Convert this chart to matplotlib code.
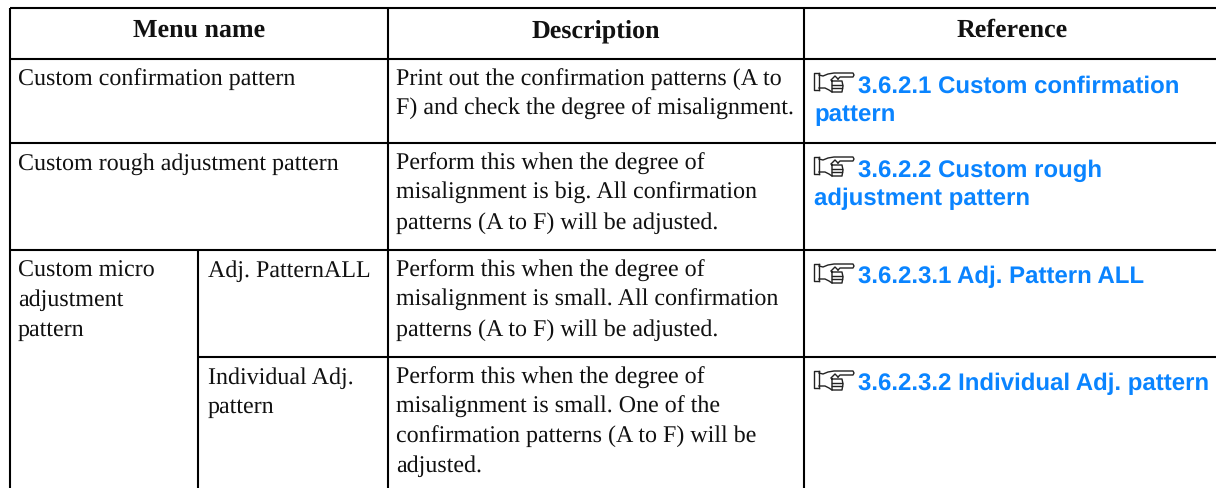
import matplotlib
matplotlib.use('Agg')
import matplotlib.pyplot as plt

plt.rcParams['text.hinting'] = 'no_hinting'
plt.rcParams['text.hinting_factor'] = 1

headers = ['Menu name', 'Description', 'Reference']
menu_names = ['Custom confirmation pattern', 'Custom rough adjustment pattern', 'Custom micro\nadjustment\npattern']
sub_names = ['Adj. PatternALL', 'Individual Adj.\npattern']
descriptions = [
    'Print out the confirmation patterns (A to\nF) and check the degree of misalignment.',
    'Perform this when the degree of\nmisalignment is big. All confirmation\npatterns (A to F) will be adjusted.',
    'Perform this when the degree of\nmisalignment is small. All confirmation\npatterns (A to F) will be adjusted.',
    'Perform this when the degree of\nmisalignment is small. One of the\nconfirmation patterns (A to F) will be\nadjusted.',
]
references = [
    '3.6.2.1 Custom confirmation\npattern',
    '3.6.2.2 Custom rough\nadjustment pattern',
    '3.6.2.3.1 Adj. Pattern ALL',
    '3.6.2.3.2 Individual Adj. pattern',
]

col_x = [10, 198, 388, 804, 1216]
row_y = [8, 59, 143, 250, 357, 488]
blue = '#0a84ff'
serif = 'Liberation Serif'
sans = 'Liberation Sans'
body = 17.1
step = 29.3

fig = plt.figure(figsize=(12.16, 4.88), dpi=100)
ax = fig.add_axes([0, 0, 1, 1])
ax.set_xlim(0, 1216)
ax.set_ylim(488, 0)
ax.axis('off')


def hline(y, x0, x1):
    ax.plot([x0, x1], [y, y], color='black', lw=1.5, solid_capstyle='butt')


def vline(x, y0, y1):
    ax.plot([x, x], [y0, y1], color='black', lw=1.5, solid_capstyle='butt')


def block(x, y, txt):
    for k, line in enumerate(txt.split('\n')):
        ax.text(x, y + k * step, line, va='baseline', family=serif, fontsize=body, color='#111111')


def hand(x, y):
    # pointing hand in front of the links, x,y = top left of the cuff
    k = '#222222'
    lw = 1.0
    ax.plot([x + 5, x, x, x + 5], [y, y, y + 17, y + 17], color=k, lw=lw)
    ax.plot([x + 5, x + 5], [y, y + 17], color=k, lw=lw)
    ax.plot([x + 5, x + 9, x + 14, x + 20, x + 39, x + 40, x + 39, x + 26, x + 24],
            [y + 2, y + 3, y + 1, y, y, y + 2, y + 4, y + 4, y + 6], color=k, lw=lw)
    ax.plot([x + 5, x + 11, x + 15, x + 18], [y + 15, y + 15, y + 17, y + 19], color=k, lw=lw)
    ax.plot([x + 18, x + 28, x + 29, x + 28, x + 18, x + 18], [y + 8, y + 8, y + 13, y + 19, y + 19, y + 8], color=k, lw=lw)
    ax.plot([x + 18, x + 28], [y + 11.5, y + 11.5], color=k, lw=lw)
    ax.plot([x + 18, x + 28], [y + 15, y + 15], color=k, lw=lw)
    ax.plot([x + 17, x + 21, x + 24], [y + 7, y + 3, y + 6], color=k, lw=lw)


hline(row_y[0], col_x[0], col_x[4])
hline(row_y[1], col_x[0], col_x[4])
hline(row_y[2], col_x[0], col_x[4])
hline(row_y[3], col_x[0], col_x[4])
hline(row_y[4], col_x[1], col_x[4])
vline(col_x[0], row_y[0], row_y[5])
vline(col_x[1], row_y[3], row_y[5])
vline(col_x[2], row_y[0], row_y[5])
vline(col_x[3], row_y[0], row_y[5])

header_cx = [(col_x[0] + col_x[2]) / 2, (col_x[2] + col_x[3]) / 2, (col_x[3] + col_x[4]) / 2 + 2]
for cx, h in zip(header_cx, headers):
    ax.text(cx, 37, h, ha='center', va='baseline', family=serif, weight='bold', fontsize=19, color='#111111')

for i, t in enumerate(menu_names):
    block(18, row_y[i + 1] + 27, t)
for i, t in enumerate(sub_names):
    block(208, row_y[i + 3] + 27, t)
for i, t in enumerate(descriptions):
    block(396, row_y[i + 1] + 27, t)
for i, t in enumerate(references):
    first, _, rest = t.partition('\n')
    y = row_y[i + 1] + 33.5
    hand(814, row_y[i + 1] + 14)
    ax.text(858, y, first, va='baseline', family=sans, weight='bold', color=blue, fontsize=17.1)
    if rest:
        ax.text(814, y + 29, rest, va='baseline', family=sans, weight='bold', color=blue, fontsize=17.1)

fig.savefig('out.png', dpi=100)
